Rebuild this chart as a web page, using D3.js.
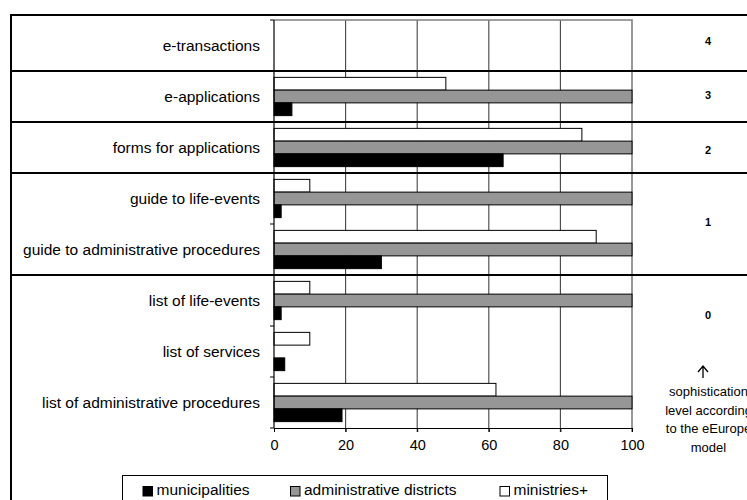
<!DOCTYPE html>
<html><head><meta charset="utf-8">
<script src="https://cdn.jsdelivr.net/npm/d3@7"></script>
<style>body{margin:0;background:#fff}svg{display:block}text{font-family:"Liberation Sans",Arial,sans-serif}</style>
</head><body>
<svg id="c" width="747" height="500"></svg>
<script>
const categories = ["e-transactions","e-applications","forms for applications","guide to life-events","guide to administrative procedures","list of life-events","list of services","list of administrative procedures"];
const seriesNames = ["ministries+","administrative districts","municipalities"];
const ministries = [0,48,86,10,90,10,10,62];
const districts = [0,100,100,100,100,100,0,100];
const municipalities = [0,5,64,2,30,2,3,19];
const xTicks = [0,20,40,60,80,100];
const levels = ["4","3","2","1","0"];
const levelStart = [0,1,2,3,5]; // first category index of each level section
const noteLines = ["sophistication","level according","to the eEurope","model"];
const legendOrder = ["municipalities","administrative districts","ministries+"];

const svg = d3.select("#c");
const L = 274, R = 632, T = 20, B = 428;
const fills = {"ministries+":"#fff","administrative districts":"#969696","municipalities":"#000"};
const values = {"ministries+":ministries,"administrative districts":districts,"municipalities":municipalities};

const x = d3.scaleLinear().domain([0,100]).range([L,R]);
const y = d3.scaleBand().domain(categories).range([T,B]).padding(0);
const yi = d3.scaleBand().domain(seriesNames).range([0,y.bandwidth()]).paddingInner(0).paddingOuter(0.5);

// outer frame
svg.append("path").attr("d",`M11,${505}V15H760`).attr("fill","none").attr("stroke","#000").attr("stroke-width",2);

// gridlines
svg.append("g").selectAll("line").data(xTicks.slice(1,-1)).join("line")
  .attr("x1",d=>x(d)).attr("x2",d=>x(d)).attr("y1",T).attr("y2",B+4)
  .attr("stroke","#444").attr("stroke-width",1.1);
// plot top and right border
svg.append("path").attr("d",`M${L},${T}H${R}V${B+4}`).attr("fill","none").attr("stroke","#808080").attr("stroke-width",1.6);

// bars
const bars = [];
categories.forEach((c,i)=>seriesNames.forEach(s=>bars.push({c,s,v:values[s][i]})));
svg.append("g").selectAll("rect").data(bars.filter(d=>d.v>0)).join("rect")
  .attr("x",x(0)).attr("width",d=>x(d.v)-x(0))
  .attr("y",d=>y(d.c)+yi(d.s)).attr("height",yi.bandwidth())
  .attr("fill",d=>fills[d.s]).attr("stroke","#000").attr("stroke-width",1);

// x axis
const xa = svg.append("g").attr("transform",`translate(0,${B})`)
  .call(d3.axisBottom(x).tickValues(xTicks).tickSize(4).tickPadding(8).tickSizeOuter(0));
xa.select(".domain").attr("stroke","#000").attr("stroke-width",1.2);
xa.selectAll(".tick line").attr("stroke","#000");
xa.selectAll("text").attr("font-size","14.5px").attr("fill","#000").attr("font-family",'"Liberation Sans",Arial,sans-serif');

// y axis
svg.append("line").attr("x1",L).attr("x2",L).attr("y1",T).attr("y2",B).attr("stroke","#000").attr("stroke-width",1.2);
const bounds = categories.map(c=>y(c)).concat([B]);
svg.append("g").selectAll("line").data(bounds).join("line")
  .attr("x1",L-4).attr("x2",L).attr("y1",d=>d).attr("y2",d=>d).attr("stroke","#000").attr("stroke-width",1);
svg.append("g").selectAll("text").data(categories).join("text")
  .attr("x",260).attr("y",d=>y(d)+y.bandwidth()/2+5.5).attr("text-anchor","end")
  .attr("font-size","15.5px").attr("fill","#000").text(d=>d);

// section separators
svg.append("g").selectAll("line").data(levelStart.slice(1)).join("line")
  .attr("x1",11).attr("x2",760).attr("y1",d=>y(categories[d])).attr("y2",d=>y(categories[d]))
  .attr("stroke","#000").attr("stroke-width",2);

// level labels
const levelOffset = [-5,-1.5,2.5,y.bandwidth()/2-2.5,14.5];
svg.append("g").selectAll("text").data(levels).join("text")
  .attr("x",708).attr("y",(d,i)=>y(categories[levelStart[i]])+y.bandwidth()/2+levelOffset[i]+4)
  .attr("text-anchor","middle").attr("font-size","11px").attr("font-weight","bold").text(d=>d);

// arrow and note
svg.append("path").attr("d","M703,378V367M698,372L703,366L708,372").attr("fill","none").attr("stroke","#000").attr("stroke-width",1.3);
svg.append("g").selectAll("text").data(noteLines).join("text")
  .attr("x",708.5).attr("y",(d,i)=>396+i*18.5).attr("text-anchor","middle").attr("font-size","13px").text(d=>d);

// legend
svg.append("rect").attr("x",122.5).attr("y",475.5).attr("width",485).attr("height",40).attr("fill","#fff").attr("stroke","#000").attr("stroke-width",1);
const legX = [142.5,290,499.5];
const lg = svg.append("g").selectAll("g").data(legendOrder).join("g").attr("transform",(d,i)=>`translate(${legX[i]},0)`);
lg.append("rect").attr("x",0.5).attr("y",486.5).attr("width",9.5).attr("height",9.5).attr("fill",d=>fills[d]).attr("stroke","#000").attr("stroke-width",1);
lg.append("text").attr("x",14).attr("y",495).attr("font-size","15.5px").text(d=>d);
</script>
</body></html>
